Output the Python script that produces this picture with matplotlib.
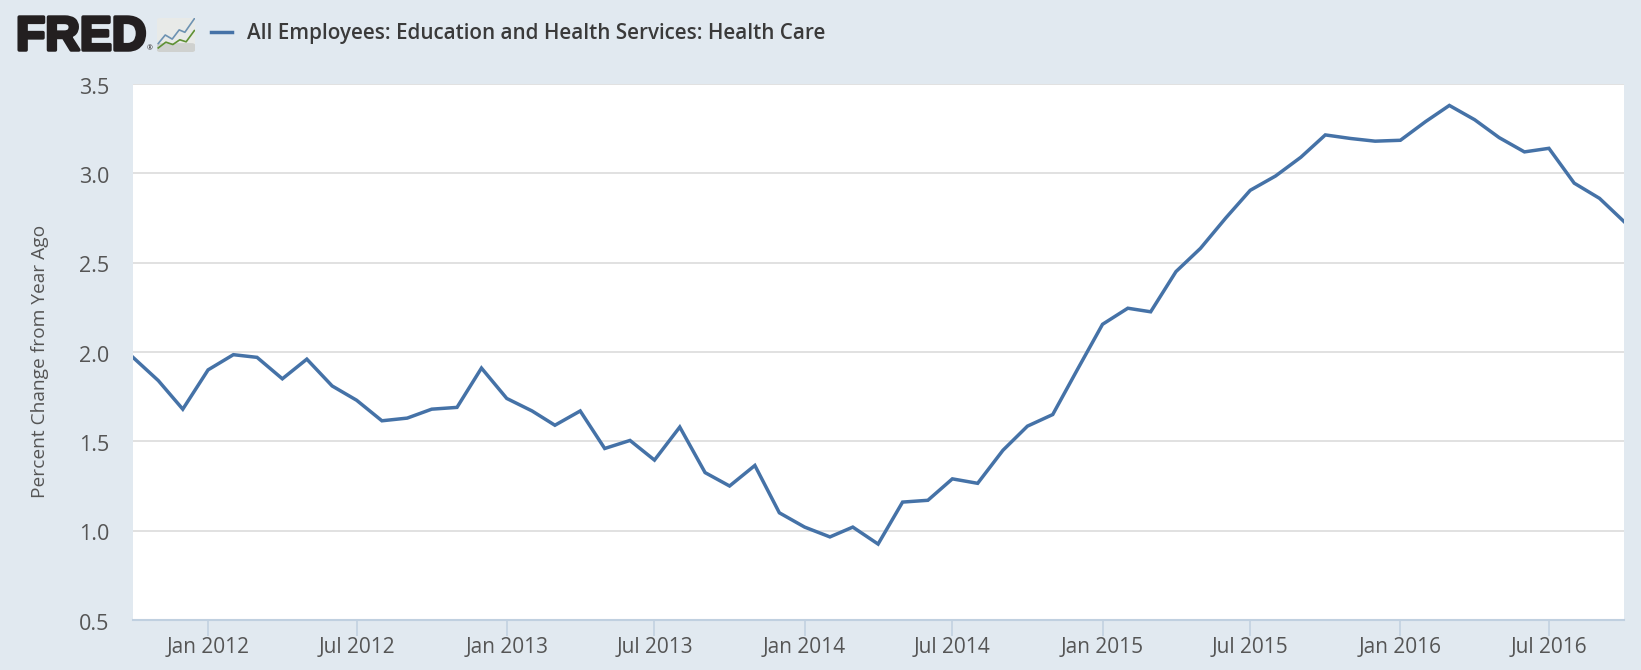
import matplotlib
matplotlib.use('Agg')
import matplotlib.pyplot as plt
import matplotlib.dates as mdates
import matplotlib.patheffects as pe
import matplotlib.transforms as mtrans
import pandas as pd
from matplotlib.patches import FancyBboxPatch

plt.rcParams['font.family'] = ['Open Sans', 'DejaVu Sans']

# monthly values, oct 2011 - oct 2016
start_month = '2011-10-01'
values = [
    1.97, 1.84, 1.68,
    1.90, 1.985, 1.97, 1.85, 1.96, 1.81, 1.73, 1.615, 1.63, 1.68, 1.69, 1.91,
    1.74, 1.67, 1.59, 1.67, 1.46, 1.505, 1.395, 1.58, 1.325, 1.25, 1.365, 1.10,
    1.02, 0.965, 1.02, 0.925, 1.16, 1.17, 1.29, 1.265, 1.45, 1.585, 1.65, 1.90,
    2.155, 2.245, 2.225, 2.45, 2.58, 2.75, 2.905, 2.985, 3.09, 3.215, 3.195, 3.18,
    3.185, 3.29, 3.38, 3.30, 3.20, 3.12, 3.14, 2.945, 2.86, 2.73,
]
dates = pd.date_range(start_month, periods=len(values), freq='MS')

y_ticks = [0.5, 1.0, 1.5, 2.0, 2.5, 3.0, 3.5]
x_ticks = pd.date_range('2012-01-01', '2016-07-01', freq='6MS')
x_labels = [d.strftime('%b %Y') for d in x_ticks]
series_name = 'All Employees: Education and Health Services: Health Care'
y_title = 'Percent Change from Year Ago'

bg = '#e1e9f0'
line_color = '#4572a7'
text_color = '#555555'
W, H = 1641, 670

fig = plt.figure(figsize=(W / 100, H / 100), dpi=100, facecolor=bg)
ax = fig.add_axes([133 / W, 1 - 620 / H, (1624 - 133) / W, (620 - 84) / H])
ax.plot(dates, values, color=line_color, lw=2.5, solid_joinstyle='miter', zorder=3)
ax.set_xlim(dates[0], dates[-1])
ax.set_ylim(0.5, 3.5)

ax.set_yticks(y_ticks)
ax.set_yticklabels([f'{v:.1f}' for v in y_ticks])
ax.set_xticks(mdates.date2num(x_ticks))
ax.set_xticklabels(x_labels)
ax.grid(axis='y', color='#d8d8d8', lw=1.1)
ax.set_axisbelow(True)
ax.tick_params(axis='y', length=0, pad=17, labelsize=15.5, labelcolor=text_color)
ax.tick_params(axis='x', length=11.5, width=1.1, color='#c0d0e0', pad=1,
               labelsize=15, labelcolor=text_color)
# y labels sit a little below the gridline in the original
shift = mtrans.ScaledTranslation(0, -1.5 / 100, fig.dpi_scale_trans)
for lab in ax.get_yticklabels():
    lab.set_transform(lab.get_transform() + shift)
for side in ['top', 'left', 'right']:
    ax.spines[side].set_visible(False)
ax.spines['bottom'].set_color('#c0d0e0')
ax.spines['bottom'].set_linewidth(1.5)
ax.set_ylabel(y_title, fontsize=13.8, color=text_color)
ax.yaxis.set_label_coords(-0.0562, 0.483)

# header: logo + legend
fig.text(16 / W, 1 - 50 / H, 'FRED', family='Liberation Sans', weight='bold',
         fontsize=34.5, color='#231f20', va='baseline', ha='left',
         path_effects=[pe.withStroke(linewidth=2.5, foreground='#231f20')])
fig.text(147 / W, 1 - 49 / H, '®', fontsize=5, color='#231f20', va='center')
icon = fig.add_axes([157 / W, 1 - 52 / H, 38 / W, 34 / H])
icon.set_xlim(0, 6)
icon.set_ylim(0, 10)
icon.axis('off')
icon.add_patch(FancyBboxPatch((0.1, 0.2), 5.8, 9.6, boxstyle='round,pad=0,rounding_size=0.4',
                              color='#e8eae8'))
icon.add_patch(FancyBboxPatch((0.1, 0.2), 5.8, 2.2, boxstyle='round,pad=0,rounding_size=0.4',
                              color='#cfd1cf'))
icon.plot([0.2, 1.3, 2.4, 3.5, 4.4, 5.9], [2.5, 5, 3.8, 6.5, 5.8, 9.8], color='#6d92b2', lw=1.2)
icon.plot([0.2, 1.4, 2.5, 3.6, 4.6, 5.9], [1.2, 2.9, 2.2, 3.6, 3.0, 6.3], color='#5f9134', lw=1.2)

fig.add_artist(plt.Line2D([211 / W, 232 / W], [1 - 32 / H] * 2, color=line_color, lw=2.5))
fig.text(247 / W, 1 - 34 / H, series_name, fontsize=14.85, weight='semibold',
         color='#3a3a3a', va='center', ha='left')

fig.savefig('out.png', dpi=100, facecolor=bg)
